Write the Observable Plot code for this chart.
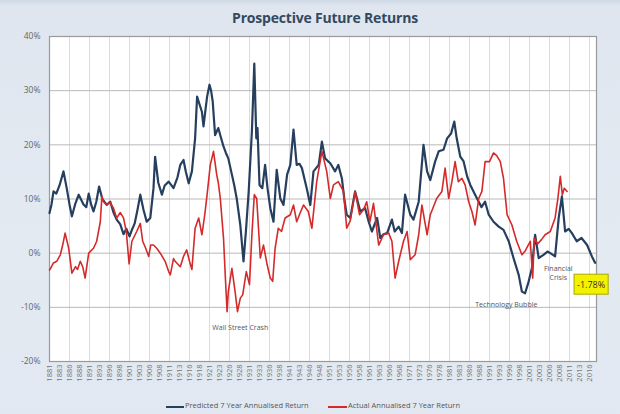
<!DOCTYPE html>
<html><head><meta charset="utf-8">
<script src="https://cdn.jsdelivr.net/npm/d3@7"></script>
<script src="https://cdn.jsdelivr.net/npm/@observablehq/plot@0.6"></script>
<style>
html,body{margin:0;padding:0;}
body{width:620px;height:414px;overflow:hidden;position:relative;background:linear-gradient(180deg,#cfd9e6 0px,#dfe6ef 6px,#e4eaf2 60%,#e2e8f1 100%);font-family:"Open Sans",sans-serif;}
#title{position:absolute;left:0;top:8px;width:650px;text-align:center;font-weight:700;font-size:14px;color:#34495e;letter-spacing:-0.2px;}
#chart{position:absolute;left:0;top:30px;}
.leg{position:absolute;top:400px;font-size:7.5px;color:#555;white-space:nowrap;}
.sw{position:absolute;top:406px;height:2px;}
</style></head><body>
<div id="title">Prospective Future Returns</div>
<div id="chart"></div>
<div class="sw" style="left:166px;width:18px;background:#263f5f"></div>
<div class="leg" style="left:185px">Predicted 7 Year Annualised Return</div>
<div class="sw" style="left:328px;width:19px;background:#d42a2a"></div>
<div class="leg" style="left:348px">Actual Annualised 7 Year Return</div>
<script>
const predYears = [1881.0,1881.5,1882.0,1882.7,1883.5,1884.5,1885.3,1886.0,1886.6,1887.4,1888.3,1889.5,1890.2,1890.8,1891.4,1892.0,1892.7,1893.4,1894.2,1895.3,1896.2,1897.0,1897.8,1898.7,1899.5,1900.2,1901.0,1901.6,1902.3,1903.0,1903.7,1904.5,1905.3,1906.2,1907.0,1907.4,1908.2,1909.1,1909.8,1910.8,1912.0,1913.0,1913.7,1914.5,1915.1,1915.8,1916.6,1917.4,1917.9,1918.5,1919.1,1919.5,1920.0,1920.4,1921.0,1921.4,1921.8,1922.4,1923.2,1923.8,1924.5,1925.1,1925.7,1926.6,1927.2,1927.8,1928.7,1929.5,1930.1,1930.8,1931.6,1932.2,1932.7,1933.0,1933.5,1934.2,1934.9,1935.5,1936.2,1937.0,1937.8,1938.7,1939.5,1940.4,1941.2,1942.0,1942.8,1943.5,1944.1,1945.3,1946.2,1947.0,1948.3,1949.1,1949.9,1950.6,1951.2,1952.4,1953.2,1954.1,1954.7,1955.3,1956.2,1957.4,1958.7,1959.9,1960.8,1961.6,1962.9,1963.7,1964.5,1965.4,1966.6,1967.3,1968.3,1969.1,1969.9,1971.2,1972.0,1973.3,1974.5,1975.4,1976.2,1977.4,1978.3,1979.5,1980.4,1981.4,1982.2,1982.8,1983.7,1984.5,1985.4,1986.2,1987.4,1988.3,1989.0,1989.9,1990.8,1992.0,1993.3,1994.5,1995.8,1997.0,1998.3,1999.1,1999.9,2000.8,2001.6,2002.4,2003.3,2004.5,2005.5,2006.2,2007.4,2008.3,2009.1,2009.9,2010.8,2011.6,2012.8,2014.0,2015.4,2016.6,2017.4];
const predValues = [7.4,9,11.4,11,12.5,15.1,12,9,6.8,9,10.8,9,8.5,11,9,7.7,9.5,12.3,10,8.9,9.5,7.5,6.2,5.3,3.5,4.5,3.1,4.3,5.5,8,10.8,8,5.8,6.5,12,17.8,13,10.8,12.5,13.2,12,14,16.3,17.2,15,12.9,15.1,21.2,28.9,27.5,26.1,23.4,26.5,28.9,31.1,30,28,21.8,23.1,21.5,19.7,18.5,17.5,14.5,12.5,10.1,5.2,-1.5,4,11.4,22.5,35,21.2,23.1,12.6,12,16.3,12,8.3,5.8,15.4,10.1,8.9,14.5,16.3,22.8,16.3,16.5,15.7,12,8.9,15.1,16.3,20.6,17.5,17,16.6,15.1,16.3,13.8,10,7.1,6.5,11.4,7.7,8.3,5.8,4,6.5,2.8,3.5,3.7,6.2,4,4.9,3.7,10.8,7.1,6.2,9.5,20,15.1,13.5,16.9,18.8,19.1,21.2,22.1,24.3,21.2,17.8,17,14.2,12.6,10.8,9.5,8.5,9.5,7.1,5.8,4.9,4.3,2.2,-0.9,-4,-7.1,-7.4,-5.2,-2.8,3.4,-0.9,-0.3,0.3,0,-0.6,6.5,10.5,4,4.5,3.7,2.2,2.8,1.5,-0.6,-1.78];
const actYears = [1881.0,1881.5,1882.0,1882.8,1883.7,1884.3,1884.9,1885.8,1886.6,1887.5,1888.0,1888.7,1889.3,1889.9,1890.8,1892.0,1892.8,1893.7,1894.1,1894.5,1895.3,1896.0,1897.0,1897.8,1898.7,1899.5,1900.2,1900.9,1901.6,1902.8,1903.7,1904.3,1905.0,1905.8,1906.3,1907.0,1907.8,1908.7,1909.9,1910.8,1911.2,1912.0,1912.4,1913.7,1914.5,1915.3,1916.0,1916.6,1917.4,1918.3,1919.1,1919.8,1920.4,1921.2,1922.0,1922.8,1923.2,1923.7,1924.5,1925.0,1925.4,1925.7,1926.6,1927.4,1928.0,1928.7,1929.3,1930.2,1931.0,1931.6,1932.2,1932.8,1933.3,1933.7,1934.5,1935.4,1936.2,1936.8,1937.4,1938.2,1939.0,1939.9,1941.2,1942.0,1942.8,1943.7,1944.5,1945.7,1946.6,1947.8,1949.1,1950.3,1951.2,1952.0,1953.2,1954.5,1955.3,1956.2,1957.4,1958.5,1959.5,1960.3,1961.1,1962.0,1963.3,1964.5,1965.8,1966.6,1967.4,1968.3,1969.5,1970.4,1971.2,1972.4,1973.3,1974.1,1975.4,1976.2,1977.8,1979.1,1979.9,1980.8,1981.6,1982.4,1983.2,1984.1,1984.9,1985.8,1986.6,1987.4,1988.3,1989.1,1989.9,1991.0,1992.0,1992.8,1993.7,1994.5,1995.4,1996.6,1997.8,1999.1,2000.0,2001.2,2001.8,2002.2,2003.0,2004.0,2004.9,2006.2,2007.4,2008.1,2008.7,2009.2,2009.7,2010.4];
const actValues = [-3.1,-2.5,-1.8,-1.5,-0.3,1.5,3.7,0.9,-3.7,-2.5,-3,-1.5,-2.5,-4.6,0,0.9,2.2,5.8,10.5,9.5,8.9,9.5,8.3,6.5,7.5,6.5,4,-2,2.2,4,5.5,2.2,1,-0.6,1.5,1.5,0.9,0,-1.5,-3.4,-4,-1,-1.5,-2.5,-0.6,0.6,-1.5,-3,4.6,6.5,3.4,7,10.8,16.3,18.8,14.5,13,10.1,2.8,-5,-10.8,-7.1,-2.8,-7.1,-10.8,-8.3,-7.7,-3.4,-5.8,3.4,10.8,10.1,4,-0.9,1.5,-2.1,-4.6,-5.2,0.9,4.6,4,6.5,7.1,8.9,5.8,7.5,8.9,7.7,4.6,13.2,18.8,15.1,10.1,12.6,13.2,11.4,4.6,6,11.4,7.1,8,9.5,5.8,9.2,1.5,3.4,3.7,2.2,-4.6,-1.5,2.2,4,-1.2,-0.3,3.4,8.9,3.4,7.1,10.1,11.4,15.7,10.1,13.2,16.9,13.2,13.8,12.6,9.5,7.7,5.2,10.1,11.4,16.9,16.9,18.5,18,16.9,13.8,7.1,5.2,2.2,-0.3,0.5,2.2,-4.6,2.8,1.7,2.5,3.4,4,6.5,10.1,14.2,10.8,12,11.4];
const tickLabels = [1881,1883,1886,1888,1891,1893,1896,1898,1901,1903,1906,1908,1911,1913,1916,1918,1921,1923,1926,1928,1931,1933,1936,1938,1941,1943,1946,1948,1951,1953,1956,1958,1961,1963,1966,1968,1971,1973,1976,1978,1981,1983,1986,1988,1991,1993,1996,1998,2001,2003,2006,2008,2011,2013,2016];
const yTicks = [-20,-10,0,10,20,30,40];
const noteTexts = ["Wall Street Crash","Technology Bubble","Financial\nCrisis"];
const noteYears = [1928.7,1995.2,2008.2];
const noteValues = [-13.6,-9.3,-3.6];
const lastLabel = "-1.78%";

const predicted = predYears.map((y,i)=>({year:y,value:predValues[i]}));
const actual = actYears.map((y,i)=>({year:y,value:actValues[i]}));
const notes = noteTexts.map((t,i)=>({text:t,year:noteYears[i],value:noteValues[i]}));
const tickPos = tickLabels.map((_,i)=>1881+2.5*i);
const gridPos = tickPos.filter((_,i)=>i%2===0);
const last = [{year:predYears[predYears.length-1],value:predValues[predValues.length-1],text:lastLabel}];

const chart = Plot.plot({
  width:620, height:364,
  marginTop:6, marginBottom:33, marginLeft:49, marginRight:24,
  style:{background:"transparent", fontFamily:"'Open Sans',sans-serif", overflow:"visible"},
  x:{domain:[1881,2017.75], label:null},
  y:{domain:[-20,40], label:null},
  marks:[
    Plot.frame({fill:"white", stroke:"none"}),
    Plot.ruleX(gridPos,{stroke:"#dcdcdc", strokeWidth:1}),
    Plot.ruleY(yTicks,{stroke:"#b9b9b9", strokeWidth:1}),
    Plot.frame({stroke:"#9a9a9a", strokeWidth:1.2}),
    Plot.axisY(yTicks,{tickSize:0, tickPadding:9, tickFormat:d=>d+"%", fontSize:8.5, fill:"#666", label:null}),
    Plot.axisX(tickPos,{tickSize:0, tickPadding:3, tickRotate:-90, tickFormat:(d,i)=>String(tickLabels[i]), fontSize:7.5, fill:"#777", label:null}),
    Plot.line(predicted,{x:"year",y:"value",stroke:"#263f5f",strokeWidth:2.2}),
    Plot.line(actual,{x:"year",y:"value",stroke:"#d42a2a",strokeWidth:1.6}),
    Plot.text(notes,{x:"year",y:"value",text:"text",fontSize:7,fill:"#555",lineHeight:1.35}),
    Plot.text(last,{x:"year",y:"value",text:"text",dx:-4,dy:22,fontSize:9,fill:"#333"})
  ]
});
document.getElementById("chart").appendChild(chart);
// draw a yellow box behind the last-value label
const svg = chart.tagName.toLowerCase()==="svg" ? chart : chart.querySelector("svg");
svg.querySelectorAll("text").forEach(t=>{
  if (t.textContent === lastLabel) {
    const b = t.getBBox();
    const r = document.createElementNS("http://www.w3.org/2000/svg","rect");
    r.setAttribute("x", b.x-3); r.setAttribute("y", b.y-3.5);
    r.setAttribute("width", b.width+6); r.setAttribute("height", b.height+7);
    r.setAttribute("fill", "#f2f200"); r.setAttribute("stroke", "#a8a800"); r.setAttribute("stroke-width", "1");
    const tr = t.getAttribute("transform");
    if (tr) r.setAttribute("transform", tr);
    t.parentNode.insertBefore(r, t);
  }
});
</script>
</body></html>
